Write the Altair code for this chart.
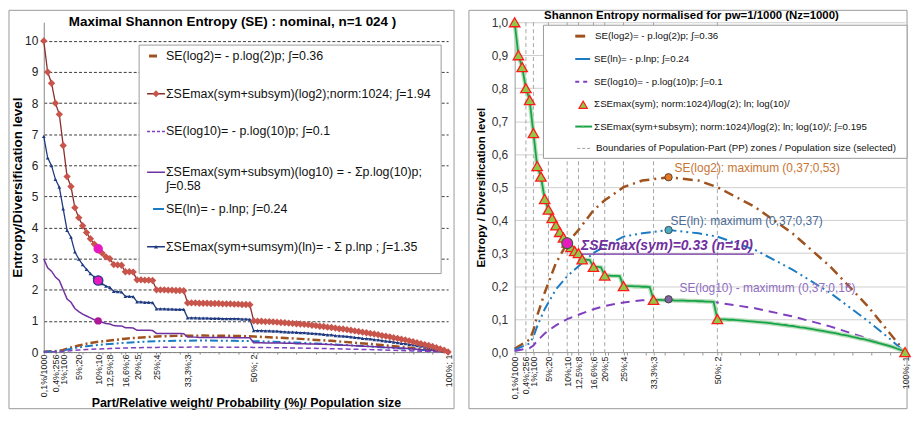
import altair as alt
import pandas as pd

# ---------------- data ----------------
# x categories: part / probability in %
cats = [0.1, 0.2, 0.25, 0.4, 0.5, 1, 2, 2.5, 4, 5, 6, 7, 8, 9, 10, 11, 12, 12.5,
        14, 15, 16, 16.6, 18, 19, 20, 21, 22, 23, 24, 25, 26, 27, 28, 29, 30, 31, 32,
        33.3] + list(range(34, 101))

# sum SEmax(sym+subsym) in log2, ln, log10 and normalised (log2 / 10)
sum_log2 = [10.0, 9.0, 8.64, 8.0, 7.64, 6.64, 5.64, 5.32, 4.64, 4.32, 4.06, 3.84, 3.64, 3.47,
            3.32, 3.18, 3.06, 3.0, 2.81, 2.80, 2.79, 2.58, 2.58, 2.57, 2.32, 2.32, 2.31, 2.31,
            2.30, 2.0, 2.0, 2.0, 1.99, 1.99, 1.98, 1.98, 1.97, 1.58, 1.58,
            1.58, 1.57, 1.57, 1.57, 1.56, 1.56, 1.56, 1.55, 1.55, 1.55, 1.54, 1.54, 1.53, 1.53, 1.52,
            1.0,
            0.99, 0.99, 0.98, 0.98, 0.97, 0.96, 0.95, 0.94, 0.93, 0.92,
            0.91, 0.90, 0.89, 0.88, 0.86, 0.85, 0.83, 0.82, 0.80, 0.79,
            0.77, 0.75, 0.74, 0.72, 0.70, 0.68, 0.66, 0.64, 0.62, 0.60,
            0.58, 0.56, 0.53, 0.51, 0.49, 0.46, 0.44, 0.41, 0.39, 0.36,
            0.33, 0.30, 0.27, 0.24, 0.21, 0.18, 0.14, 0.10, 0.06, 0.0]
sum_ln = [6.93, 6.24, 5.99, 5.55, 5.30, 4.60, 3.91, 3.69, 3.22, 2.99, 2.81, 2.66, 2.52, 2.41,
          2.30, 2.20, 2.12, 2.08, 1.95, 1.94, 1.93, 1.79, 1.79, 1.78, 1.61, 1.61, 1.60, 1.60,
          1.59, 1.39, 1.39, 1.39, 1.38, 1.38, 1.37, 1.37, 1.37, 1.10, 1.10,
          1.10, 1.09, 1.09, 1.09, 1.08, 1.08, 1.08, 1.07, 1.07, 1.07, 1.07, 1.07, 1.06, 1.06, 1.05,
          0.69,
          0.69, 0.69, 0.68, 0.68, 0.67, 0.67, 0.66, 0.65, 0.64, 0.64,
          0.63, 0.62, 0.62, 0.61, 0.60, 0.59, 0.58, 0.57, 0.55, 0.55,
          0.53, 0.52, 0.51, 0.50, 0.49, 0.47, 0.46, 0.44, 0.43, 0.42,
          0.40, 0.39, 0.37, 0.35, 0.34, 0.32, 0.30, 0.28, 0.27, 0.25,
          0.23, 0.21, 0.19, 0.17, 0.15, 0.12, 0.10, 0.07, 0.04, 0.0]
sum_log10 = [3.0, 2.71, 2.60, 2.41, 2.30, 2.0, 1.70, 1.60, 1.40, 1.30, 1.22, 1.16, 1.10, 1.04,
             1.0, 0.96, 0.92, 0.90, 0.85, 0.84, 0.84, 0.78, 0.78, 0.77, 0.70, 0.70, 0.70, 0.70,
             0.69, 0.60, 0.60, 0.60, 0.60, 0.60, 0.60, 0.60, 0.59, 0.48, 0.48,
             0.48, 0.47, 0.47, 0.47, 0.47, 0.47, 0.47, 0.47, 0.47, 0.47, 0.46, 0.46, 0.46, 0.46, 0.46,
             0.30,
             0.30, 0.30, 0.29, 0.29, 0.29, 0.29, 0.29, 0.28, 0.28, 0.28,
             0.27, 0.27, 0.27, 0.26, 0.26, 0.26, 0.25, 0.25, 0.24, 0.24,
             0.23, 0.23, 0.22, 0.22, 0.21, 0.20, 0.20, 0.19, 0.19, 0.18,
             0.17, 0.17, 0.16, 0.15, 0.15, 0.14, 0.13, 0.12, 0.12, 0.11,
             0.10, 0.09, 0.08, 0.07, 0.06, 0.05, 0.04, 0.03, 0.02, 0.0]
sum_norm = [1.0, 0.9, 0.864, 0.8, 0.764, 0.664, 0.564, 0.532, 0.464, 0.432, 0.406, 0.384, 0.364, 0.347,
            0.332, 0.318, 0.306, 0.3, 0.281, 0.28, 0.279, 0.258, 0.258, 0.257, 0.232, 0.232, 0.231, 0.231,
            0.23, 0.2, 0.2, 0.2, 0.199, 0.199, 0.198, 0.198, 0.197, 0.158, 0.158,
            0.158, 0.157, 0.157, 0.157, 0.156, 0.156, 0.156, 0.155, 0.155, 0.155, 0.154, 0.154, 0.153, 0.153, 0.152,
            0.1,
            0.099, 0.099, 0.098, 0.098, 0.097, 0.096, 0.095, 0.094, 0.093, 0.092,
            0.091, 0.09, 0.089, 0.088, 0.086, 0.085, 0.083, 0.082, 0.08, 0.079,
            0.077, 0.075, 0.074, 0.072, 0.07, 0.068, 0.066, 0.064, 0.062, 0.06,
            0.058, 0.056, 0.053, 0.051, 0.049, 0.046, 0.044, 0.041, 0.039, 0.036,
            0.033, 0.03, 0.027, 0.024, 0.021, 0.018, 0.014, 0.01, 0.006, 0.0]

# sum SEmax(sym), normalised (triangles)
sym_cats = [0.1, 0.2, 0.25, 0.4, 0.5, 1, 2, 2.5, 4, 5, 6, 7, 8, 9, 10, 11, 12, 12.5, 14, 16.6,
            20, 25, 33.3, 50, 100]
sym_norm = [1.0, 0.9, 0.864, 0.8, 0.764, 0.664, 0.564, 0.532, 0.464, 0.432, 0.406, 0.384, 0.364,
            0.347, 0.332, 0.318, 0.306, 0.3, 0.281, 0.258, 0.232, 0.2, 0.158, 0.1, 0.0]

# single Shannon entropy terms -p.log(p)
se_cats = [0.1, 0.5, 1, 2, 4, 5, 7, 10, 12.5, 16.6, 20, 25, 30, 37, 45, 50, 60, 70, 80, 90, 95, 100]
se_log2 = [0.01, 0.038, 0.066, 0.11, 0.18, 0.21, 0.27, 0.33, 0.37, 0.43, 0.46, 0.50, 0.52, 0.53,
           0.52, 0.50, 0.44, 0.36, 0.26, 0.14, 0.07, 0.0]
se_ln = [0.007, 0.026, 0.046, 0.078, 0.13, 0.15, 0.19, 0.23, 0.26, 0.30, 0.32, 0.35, 0.36, 0.37,
         0.36, 0.35, 0.31, 0.25, 0.18, 0.095, 0.049, 0.0]
se_log10 = [0.003, 0.012, 0.02, 0.034, 0.056, 0.065, 0.081, 0.1, 0.113, 0.13, 0.14, 0.15, 0.157,
            0.16, 0.156, 0.15, 0.133, 0.108, 0.078, 0.041, 0.021, 0.0]

# axis labels (selected population parts)
tick_cats = [0.1, 0.4, 1, 5, 10, 12.5, 16.6, 20, 25, 33.3, 50, 100]
tick_labels = ['0,1%/1000', '0,4%;256', '1%;100', '5%;20', '10%;10', '12,5%;8', '16,6%;6',
               '20%;5', '25%;4', '33,3%;3', '50%; 2', '100%; 1']
boundary_cats = [0.4, 1, 5, 10, 12.5, 16.6, 20, 25, 33.3, 50]

# highlighted points
hl_p = 10
hl_left = [3.32, 2.30, 1.0]
hl_right = 0.33
max_p = 37
max_vals = [0.53, 0.37, 0.16]

left_legend = ['SE(log2)= - p.log(2)p; \u222b=0.36',
               '\u03a3SEmax(sym+subsym)(log2);norm:1024; \u222b=1.94',
               'SE(log10)= - p.log(10)p; \u222b=0.1',
               '\u03a3SEmax(sym+subsym)(log10) = - \u03a3p.log(10)p;',
               '\u222b=0.58',
               'SE(ln)= - p.lnp; \u222b=0.24',
               '\u03a3SEmax(sym+sumsym)(ln)= - \u03a3 p.lnp ; \u222b=1.35']
right_legend = ['SE(log2)= - p.log(2)p; \u222b=0.36',
                'SE(ln)= - p.lnp; \u222b=0.24',
                'SE(log10)= - p.log(10)p; \u222b=0.1',
                '\u03a3SEmax(sym); norm:1024)/log(2);  ln; log(10)/',
                '\u03a3SEmax(sym+subsym); norm:1024)/log(2);  ln; log(10)/; \u222b=0.195',
                'Boundaries of Population-Part (PP) zones / Population size (selected)']

# ---------------- styling ----------------
FONT = "Liberation Sans, Arial, sans-serif"
BROWN = '#A0521E'
BLUE = '#1B7CC4'
PURPLE = '#7F3FBF'
PURPLE_D = '#7030A0'
RED_L = '#8C2D2D'
RED_M = '#C8554C'
NAVY = '#1F3A80'
GREEN = '#17A34A'
GREEN_L = '#B2DCB2'
MAGENTA = '#E61ABF'

step = pd.DataFrame({'p': cats, 'log2': sum_log2, 'ln': sum_ln, 'log10': sum_log10,
                     'norm': sum_norm})
se = pd.DataFrame({'p': se_cats, 'log2': se_log2, 'ln': se_ln, 'log10': se_log10})
sym = pd.DataFrame({'p': sym_cats, 'v': sym_norm})
bounds = pd.DataFrame({'p': boundary_cats})
one = pd.DataFrame({'a': [0]})


def lab_expr(cs, ls):
    e = "''"
    for c, l in reversed(list(zip(cs, ls))):
        e = f"datum.value == {c} ? '{l}' : {e}"
    return e


tick_vals = sorted(set(cats[::5]) | set(tick_cats))
LABEXPR = lab_expr(tick_cats, tick_labels)


def pt(p, v):
    return pd.DataFrame({'p': [p], 'v': [v]})


def seg(x1, x2, y, color, width, dash=None):
    kw = dict(color=color, strokeWidth=width)
    if dash:
        kw['strokeDash'] = dash
    return alt.Chart(one).mark_rule(**kw).encode(x=alt.value(x1), x2=alt.value(x2), y=alt.value(y))


def sym_mark(x, y, shape, size, color, stroke=None):
    kw = dict(shape=shape, filled=True, size=size, color=color, opacity=1)
    if stroke:
        kw['stroke'] = stroke
        kw['strokeWidth'] = 1.2
    return alt.Chart(one).mark_point(**kw).encode(x=alt.value(x), y=alt.value(y))


FRAME_BOTTOM = 389

# ================= LEFT PANEL =================
W1, H1 = 407, 332
X1 = alt.X('p:O', scale=alt.Scale(type='point', domain=cats, padding=0),
           axis=alt.Axis(values=tick_vals, labelExpr=LABEXPR, labelAngle=-90, labelFont=FONT,
                         labelFontSize=9, labelColor='#222', labelOverlap=False, labelPadding=0,
                         tickSize=2, tickColor='#888', domainColor='#888', grid=False,
                         title='Part/Relative weight/ Probability (%)/ Population size',
                         titleFont=FONT, titleFontSize=12.5, titleFontWeight='bold',
                         titleColor='black', titlePadding=0))


def Y1(f):
    return alt.Y(f'{f}:Q', scale=alt.Scale(domain=[0, 10.6], nice=False),
                 axis=alt.Axis(values=list(range(0, 11)), format='d', labelFont=FONT,
                               labelFontSize=12, labelColor='#222', labelPadding=6, tickSize=0,
                               domainColor='#888', gridDash=[3, 2], gridColor='#3a3a3a',
                               gridWidth=1, title='Entropy/Diversification level',
                               titleFont=FONT, titleFontSize=13.5, titleFontWeight='bold',
                               titleColor='black', titlePadding=0))


L = []
L.append(alt.Chart(one).mark_rect(fill='white', fillOpacity=0, stroke='#9a9a9a', strokeWidth=1)
         .encode(x=alt.value(-35), x2=alt.value(413), y=alt.value(-12), y2=alt.value(FRAME_BOTTOM)))
L.append(alt.Chart(se).mark_line(color=BROWN, strokeWidth=2.5, strokeDash=[8, 3, 2, 3])
         .encode(x=X1, y=Y1('log2')))
L.append(alt.Chart(se).mark_line(color=BLUE, strokeWidth=2, strokeDash=[8, 3, 2, 3, 2, 3])
         .encode(x=X1, y=Y1('ln')))
L.append(alt.Chart(se).mark_line(color=PURPLE, strokeWidth=1.5, strokeDash=[5, 3])
         .encode(x=X1, y=Y1('log10')))
L.append(alt.Chart(step).mark_line(color=PURPLE_D, strokeWidth=1.5).encode(x=X1, y=Y1('log10')))
L.append(alt.Chart(step).mark_line(color=NAVY, strokeWidth=1.3).encode(x=X1, y=Y1('ln')))
L.append(alt.Chart(step).mark_point(shape='triangle-up', filled=True, size=14, color=NAVY, opacity=1)
         .encode(x=X1, y=Y1('ln')))
L.append(alt.Chart(step).mark_line(color=RED_L, strokeWidth=1.3).encode(x=X1, y=Y1('log2')))
L.append(alt.Chart(step).mark_point(shape='diamond', filled=True, size=55, color=RED_M, opacity=1)
         .encode(x=X1, y=Y1('log2')))
L.append(alt.Chart(pt(hl_p, hl_left[0])).mark_circle(size=90, color=MAGENTA, opacity=1)
         .encode(x=X1, y=Y1('v')))
L.append(alt.Chart(pt(hl_p, hl_left[1])).mark_circle(size=90, color=MAGENTA, opacity=1,
                                                    stroke=NAVY, strokeWidth=1.2)
         .encode(x=X1, y=Y1('v')))
L.append(alt.Chart(pt(hl_p, hl_left[2])).mark_circle(size=55, color='#B0189A', opacity=1)
         .encode(x=X1, y=Y1('v')))
# legend box
L.append(alt.Chart(one).mark_rect(fill='white', stroke='#9a9a9a', strokeWidth=1)
         .encode(x=alt.value(96), x2=alt.value(400), y=alt.value(23), y2=alt.value(253)))
ly1 = [34, 72, 110, 151, 165, 188, 226]
for lab, yy in zip(left_legend, ly1):
    L.append(alt.Chart(one).mark_text(align='left', baseline='middle', font=FONT, fontSize=12.5,
                                      color='#111')
             .encode(x=alt.value(123), y=alt.value(yy), text=alt.value(lab)))
L.append(seg(106, 114, ly1[0], BROWN, 3))
L.append(seg(104, 122, ly1[1], RED_L, 1.5))
L.append(sym_mark(113, ly1[1], 'diamond', 50, RED_M))
L.append(seg(104, 122, ly1[2], PURPLE, 1.5, [3, 2]))
L.append(seg(104, 122, ly1[3], PURPLE_D, 1.5))
L.append(seg(110, 121, ly1[5], BLUE, 2))
L.append(seg(104, 122, ly1[6], NAVY, 1.5))
L.append(sym_mark(113, ly1[6], 'triangle-up', 16, NAVY))
# title
L.append(alt.Chart(one).mark_text(align='center', baseline='middle', font=FONT, fontSize=13.5,
                                  fontWeight='bold', color='black')
         .encode(x=alt.value(190), y=alt.value(0),
                 text=alt.value('Maximal Shannon Entropy (SE) : nominal, n=1 024 )')))

left = alt.layer(*L).properties(width=W1, height=H1)

# ================= RIGHT PANEL =================
W2, H2 = 393, 332
X2 = alt.X('p:O', scale=alt.Scale(type='point', domain=cats, padding=0),
           axis=alt.Axis(values=tick_vals, labelExpr=LABEXPR, labelAngle=-90, labelFont=FONT,
                         labelFontSize=9, labelColor='#222', labelOverlap=False, labelPadding=1,
                         tickSize=3, tickColor='#999', domainColor='#999', grid=False, title=None))


def Y2(f):
    return alt.Y(f'{f}:Q', scale=alt.Scale(domain=[0, 1], nice=False),
                 axis=alt.Axis(values=[i / 10 for i in range(11)],
                               labelExpr="replace(format(datum.value, '.1f'), '.', ',')",
                               labelFont=FONT, labelFontSize=12, labelColor='#333',
                               labelPadding=7, tickSize=0, domainColor='#999',
                               gridColor='#CFCFCF', gridWidth=1,
                               title='Entropy / Diversification level', titleFont=FONT,
                               titleFontSize=11.5, titleFontWeight='bold', titleColor='black',
                               titlePadding=5))


R = []
R.append(alt.Chart(one).mark_rect(fill='white', fillOpacity=0, stroke='#9a9a9a', strokeWidth=1)
         .encode(x=alt.value(-46), x2=alt.value(W2 + 2), y=alt.value(-12), y2=alt.value(FRAME_BOTTOM)))
R.append(alt.Chart(bounds).mark_rule(color='#A6A6A6', strokeWidth=1, strokeDash=[4, 3])
         .encode(x=X2, y=alt.value(0), y2=alt.value(H2)))
R.append(alt.Chart(se).mark_line(color=BROWN, strokeWidth=2.5, strokeDash=[10, 5, 2, 5])
         .encode(x=X2, y=Y2('log2')))
R.append(alt.Chart(se).mark_line(color=BLUE, strokeWidth=2, strokeDash=[10, 4, 2, 4, 2, 4])
         .encode(x=X2, y=Y2('ln')))
R.append(alt.Chart(se).mark_line(color=PURPLE, strokeWidth=2, strokeDash=[9, 6])
         .encode(x=X2, y=Y2('log10')))
R.append(alt.Chart(step).mark_line(color=GREEN_L, strokeWidth=4.5, opacity=0.9)
         .encode(x=X2, y=Y2('norm')))
R.append(alt.Chart(step).mark_line(color=GREEN, strokeWidth=1.8).encode(x=X2, y=Y2('norm')))
R.append(alt.Chart(sym).mark_point(shape='triangle-up', filled=True, size=110, color='#92C84A',
                                   stroke='#FF1A1A', strokeWidth=1.3, opacity=1)
         .encode(x=X2, y=Y2('v')))
R.append(alt.Chart(pt(hl_p, hl_right)).mark_circle(size=120, color=MAGENTA, opacity=1,
                                                  stroke='#2E6B30', strokeWidth=1.2)
         .encode(x=X2, y=Y2('v')))
dot_cols = ['#E87722', '#4BACC6', '#8064A2']
for v, c in zip(max_vals, dot_cols):
    R.append(alt.Chart(pt(max_p, v)).mark_circle(size=55, color=c, opacity=1, stroke='#333',
                                                strokeWidth=0.8)
             .encode(x=X2, y=Y2('v')))
# annotations
ann = [("SE(log2): maximum (0,37;0,53)", max_vals[0], '#C87533', 6, -9),
       ("SE(ln): maximum (0,37;0,37)", max_vals[1], '#4A6B96', 2, -9),
       ("SE(log10) - maximum (0,37;0,16)", max_vals[2], '#8E6CC0', 11, -11)]
for txt, v, c, dx, dy in ann:
    R.append(alt.Chart(pt(max_p, v)).mark_text(align='left', baseline='middle', font=FONT,
                                              fontSize=12, color=c, dx=dx, dy=dy)
             .encode(x=X2, y=Y2('v'), text=alt.value(txt)))
R.append(alt.Chart(pt(hl_p, hl_right)).mark_text(align='left', baseline='middle', font=FONT,
                                                fontSize=14, fontWeight='bold',
                                                fontStyle='italic', color=PURPLE_D, dx=14, dy=3)
         .encode(x=X2, y=Y2('v'), text=alt.value('\u03a3SEmax(sym)=0.33 (n=10)')))
R.append(alt.Chart(pt(hl_p, hl_right)).mark_rule(color=PURPLE_D, strokeWidth=1.2,
                                                xOffset=14, x2Offset=188, yOffset=11,
                                                y2Offset=11)
         .encode(x=X2, x2=alt.X2('p'), y=Y2('v'), y2=alt.Y2('v')))
# legend
R.append(alt.Chart(one).mark_rect(fill='white', stroke='#9a9a9a', strokeWidth=1)
         .encode(x=alt.value(29), x2=alt.value(W2 + 2), y=alt.value(3), y2=alt.value(137)))
ly2 = [14, 37, 60, 82, 105, 127]
lx2 = [81, 80, 80, 80, 80, 82]
for lab, yy, xx in zip(right_legend, ly2, lx2):
    R.append(alt.Chart(one).mark_text(align='left', baseline='middle', font=FONT, fontSize=9.8,
                                      color='#111')
             .encode(x=alt.value(xx), y=alt.value(yy), text=alt.value(lab)))
R.append(seg(61, 71, ly2[0], BROWN, 3))
R.append(seg(61, 76, ly2[1], BLUE, 2))
R.append(seg(61, 76, ly2[2], PURPLE, 2, [4, 4]))
R.append(sym_mark(69, ly2[3] + 1, 'triangle-up', 70, '#92C84A', '#FF1A1A'))
R.append(seg(61, 78, ly2[4], GREEN, 2))
R.append(sym_mark(69, ly2[4], 'triangle-up', 12, '#6CC16C'))
R.append(seg(63, 76, ly2[5], '#A0A0A0', 1, [3, 2]))
# title
R.append(alt.Chart(one).mark_text(align='center', baseline='middle', font=FONT, fontSize=11.5,
                                  fontWeight='bold', color='black')
         .encode(x=alt.value(178), y=alt.value(-6),
                 text=alt.value('Shannon Entropy normalised for  pw=1/1000 (Nz=1000)')))

right = alt.layer(*R).properties(width=W2, height=H2)

chart = (alt.hconcat(left, right, spacing=13)
         .properties(padding={'left': 0, 'top': 0, 'right': 0, 'bottom': 0})
         .configure(background='white')
         .configure_view(stroke=None))

chart.save("out.html", embed_options={"renderer": "svg", "actions": False})
